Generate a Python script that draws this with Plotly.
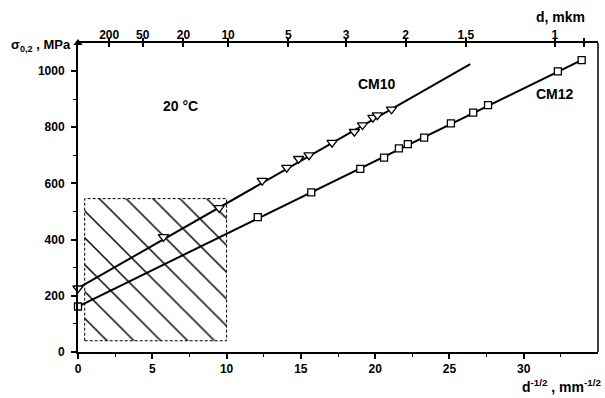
import plotly.graph_objects as go

# CM10: yield stress vs d^-1/2 (measured points and fitted line)
cm10_x = [0, 5.75, 9.5, 12.4, 14.05, 14.85, 15.55, 17.1, 18.6, 19.15, 19.85, 20.15, 21.1]
cm10_y = [227, 410, 513, 610, 656, 688, 701, 745, 784, 808, 834, 843, 864]
cm10_fit_x = [0, 26.4]
cm10_fit_y = [227, 1025]

# CM12: yield stress vs d^-1/2 (measured points and fitted line)
cm12_x = [0, 12.1, 15.7, 19.0, 20.6, 21.6, 22.2, 23.3, 25.1, 26.6, 27.6, 32.3, 33.9]
cm12_y = [162, 480, 568, 652, 692, 725, 740, 763, 814, 852, 879, 999, 1039]
cm12_fit_x = [0, 33.9]
cm12_fit_y = [162, 1039]

# hatched zone (coarse-grain region)
zone_x = [0.45, 10.0]
zone_y = [40, 546]

# grain size d (um) on the top axis
top_tick_x = [2.1, 4.35, 7.1, 10.1, 14.15, 18.05, 22.05, 26.1, 32.1, 34.05]
top_tick_text = ["200", "50", "20", "10", "5", "3", "2", "1,5", "1", ""]

X_RANGE = [0, 35]
Y_RANGE = [0, 1100]

FONT = dict(family="Arial, Liberation Sans, sans-serif", size=12, color="black", weight="bold")

fig = go.Figure()

# hatched rectangle
fig.add_trace(go.Scatter(
    x=[zone_x[0], zone_x[1], zone_x[1], zone_x[0], zone_x[0]],
    y=[zone_y[0], zone_y[0], zone_y[1], zone_y[1], zone_y[0]],
    mode="lines", fill="toself",
    fillcolor="white",
    fillpattern=dict(shape="\\", size=19, solidity=0.075, fgcolor="black",
                     fgopacity=1, bgcolor="white", fillmode="replace"),
    line=dict(color="black", width=1, dash="3px,2px"),
    hoverinfo="skip", showlegend=False,
))

# fitted lines
for fx, fy in [(cm10_fit_x, cm10_fit_y), (cm12_fit_x, cm12_fit_y)]:
    fig.add_trace(go.Scatter(x=fx, y=fy, mode="lines",
                             line=dict(color="black", width=2),
                             showlegend=False, cliponaxis=False))

# measured points
fig.add_trace(go.Scatter(x=cm10_x, y=cm10_y, mode="markers", name="CM10",
                         marker=dict(symbol="triangle-down", size=9, color="white",
                                     line=dict(color="black", width=1.3)),
                         showlegend=False, cliponaxis=False))
fig.add_trace(go.Scatter(x=cm12_x, y=cm12_y, mode="markers", name="CM12",
                         marker=dict(symbol="square", size=7, color="white",
                                     line=dict(color="black", width=1.3)),
                         showlegend=False, cliponaxis=False))

# axis arrowheads
fig.add_trace(go.Scatter(x=[X_RANGE[0]], y=[Y_RANGE[1]], mode="markers",
                         marker=dict(symbol="triangle-up", size=8, color="black"),
                         showlegend=False, cliponaxis=False, hoverinfo="skip"))
fig.add_trace(go.Scatter(x=[X_RANGE[1] + 0.15], y=[Y_RANGE[1]], mode="markers",
                         marker=dict(symbol="triangle-right", size=8, color="black"),
                         showlegend=False, cliponaxis=False, hoverinfo="skip"))

fig.update_layout(
    width=605, height=398,
    margin=dict(l=78, r=7, t=43, b=46),
    paper_bgcolor="white", plot_bgcolor="white",
    font=FONT,
    xaxis=dict(range=X_RANGE, tickvals=[0, 5, 10, 15, 20, 25, 30],
               ticks="outside", ticklen=5, tickwidth=1.5, tickcolor="black",
               minor=dict(tickvals=[2.5, 7.5, 12.5, 17.5, 22.5, 27.5, 32.5],
                          ticks="outside", ticklen=3, tickwidth=1.2, tickcolor="black"),
               showline=True, linecolor="black", linewidth=2,
               showgrid=False, zeroline=False, tickfont=FONT),
    # labelled top axis: inside ticks keep the labels close to the line
    xaxis2=dict(range=X_RANGE, overlaying="x", side="top", anchor="y",
                tickvals=top_tick_x, ticktext=top_tick_text,
                ticks="inside", ticklen=4, tickwidth=1.5, tickcolor="black",
                ticklabelstandoff=-3,
                showline=True, linecolor="black", linewidth=1.5,
                showgrid=False, zeroline=False, tickfont=FONT),
    # outer half of the crossing top ticks
    xaxis3=dict(range=X_RANGE, overlaying="x", side="top", anchor="y",
                tickvals=top_tick_x, showticklabels=False,
                ticks="outside", ticklen=4, tickwidth=1.5, tickcolor="black",
                showline=False, showgrid=False, zeroline=False),
    yaxis=dict(range=Y_RANGE, tickvals=[0, 200, 400, 600, 800, 1000],
               ticks="outside", ticklen=5, tickwidth=1.5, tickcolor="black",
               ticklabelstandoff=4,
               minor=dict(tickvals=[100, 300, 500, 700, 900],
                          ticks="outside", ticklen=3, tickwidth=1.2, tickcolor="black"),
               showline=True, linecolor="black", linewidth=2,
               showgrid=False, zeroline=False, tickfont=FONT),
    shapes=[dict(type="line", xref="paper", yref="paper", x0=1, x1=1, y0=0, y1=1,
                 line=dict(color="black", width=1.5))],
)

# traces that bind the two top axes
fig.add_trace(go.Scatter(x=[None], y=[None], xaxis="x2", showlegend=False))
fig.add_trace(go.Scatter(x=[None], y=[None], xaxis="x3", showlegend=False))

big = dict(FONT, size=14)
fig.add_annotation(x=6.9, y=875, text="20 °C", showarrow=False, font=big)
fig.add_annotation(x=20.1, y=954, text="CM10", showarrow=False, font=big)
fig.add_annotation(x=32.1, y=918, text="CM12", showarrow=False, font=big)

fig.add_annotation(xref="paper", yref="paper", x=0, y=1, xshift=-5, yshift=-2,
                   xanchor="right", yanchor="middle",
                   text="σ<sub>0,2</sub> , MPa", showarrow=False, font=dict(FONT, size=13))
fig.add_annotation(xref="paper", yref="paper", x=0.979, y=1.085,
                   xanchor="right", yanchor="middle",
                   text="d, mkm", showarrow=False, font=dict(FONT, size=14))
fig.add_annotation(xref="paper", yref="paper", x=1.0096, y=-0.11,
                   xanchor="right", yanchor="middle",
                   text="d<sup>-1/2</sup> , mm<sup>-1/2</sup>", showarrow=False,
                   font=dict(FONT, size=14))

fig.write_html("out.html")
